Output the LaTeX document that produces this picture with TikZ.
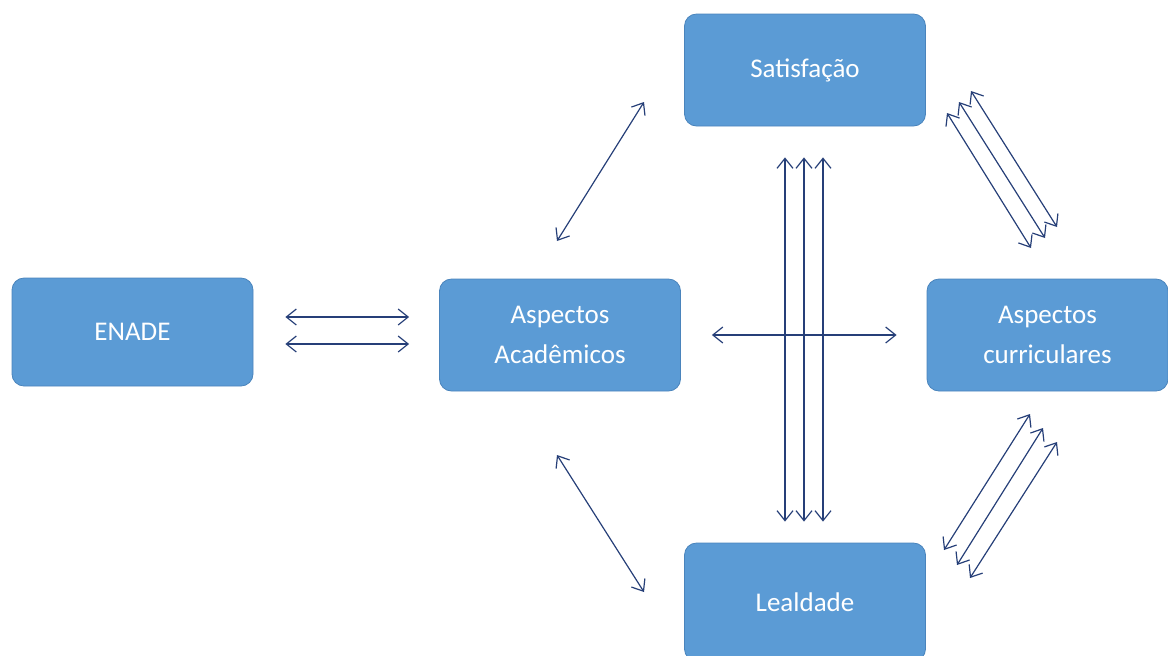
\documentclass[tikz,border=0pt]{standalone}
\usepackage{fontspec}
\setmainfont{Carlito}
\usepackage{xcolor}
\usetikzlibrary{arrows.meta, positioning}

\definecolor{boxfill}{HTML}{5B9BD5}
\definecolor{boxline}{HTML}{4A84BC}
\definecolor{arrowblue}{HTML}{263F78}

\begin{document}
\begin{tikzpicture}[
    x=0.5pt, y=-0.5pt,
    box/.style={rectangle, draw=boxline, fill=boxfill, rounded corners=6pt, minimum width=120.5pt, minimum height=56pt, align=center, text=white, font=\fontsize{13.5}{20}\selectfont, inner sep=0pt, line width=0.4pt},
    arrow/.style={{Straight Barb[length=5pt, width=8pt]}-{Straight Barb[length=5pt, width=8pt]}, draw=arrowblue, line width=0.6pt}
]
\useasboundingbox (0,0) rectangle (1168,655);

% Boxes
\node[box, minimum height=54pt] (enade) at (132.5,332) {ENADE};
\node[box] (acad) at (560,335) {Aspectos\\Acadêmicos};
\node[box] (satis) at (805,70) {Satisfação};
\node[box] (curr) at (1047.5,335) {Aspectos\\curriculares};
\node[box, minimum height=59pt] (leal) at (805,602) {Lealdade};

% Free ends of the diagonal arrows
\coordinate (as1) at (557,241);  \coordinate (as2) at (644,102);
\coordinate (al1) at (557,455);  \coordinate (al2) at (644,592);
\coordinate (sc1a) at (947,113); \coordinate (sc1b) at (1031,248);
\coordinate (sc2a) at (959,102); \coordinate (sc2b) at (1045,238);
\coordinate (sc3a) at (971,91);  \coordinate (sc3b) at (1057,227);
\coordinate (cl1a) at (1030,414); \coordinate (cl1b) at (944,550);
\coordinate (cl2a) at (1043,428); \coordinate (cl2b) at (957,565);
\coordinate (cl3a) at (1057,442); \coordinate (cl3b) at (970,578);

% Arrows
\draw[arrow, shorten <=16pt, shorten >=15pt] ([yshift=7.5pt]enade.east) -- ([yshift=9pt]acad.west);
\draw[arrow, shorten <=16pt, shorten >=15pt] ([yshift=-6pt]enade.east) -- ([yshift=-4.5pt]acad.west);
\draw[arrow, shorten <=15.5pt, shorten >=15pt] (acad.east) -- (curr.west);
\foreach \dx in {-10,-0.5,9}
  \draw[arrow, shorten <=15.5pt, shorten >=10.5pt] ([xshift=\dx pt]satis.south) -- ([xshift=\dx pt]leal.north);
\draw[arrow] (as1) -- (as2);
\draw[arrow] (al1) -- (al2);
\draw[arrow] (sc1a) -- (sc1b);
\draw[arrow] (sc2a) -- (sc2b);
\draw[arrow] (sc3a) -- (sc3b);
\draw[arrow] (cl1a) -- (cl1b);
\draw[arrow] (cl2a) -- (cl2b);
\draw[arrow] (cl3a) -- (cl3b);

\end{tikzpicture}
\end{document}
